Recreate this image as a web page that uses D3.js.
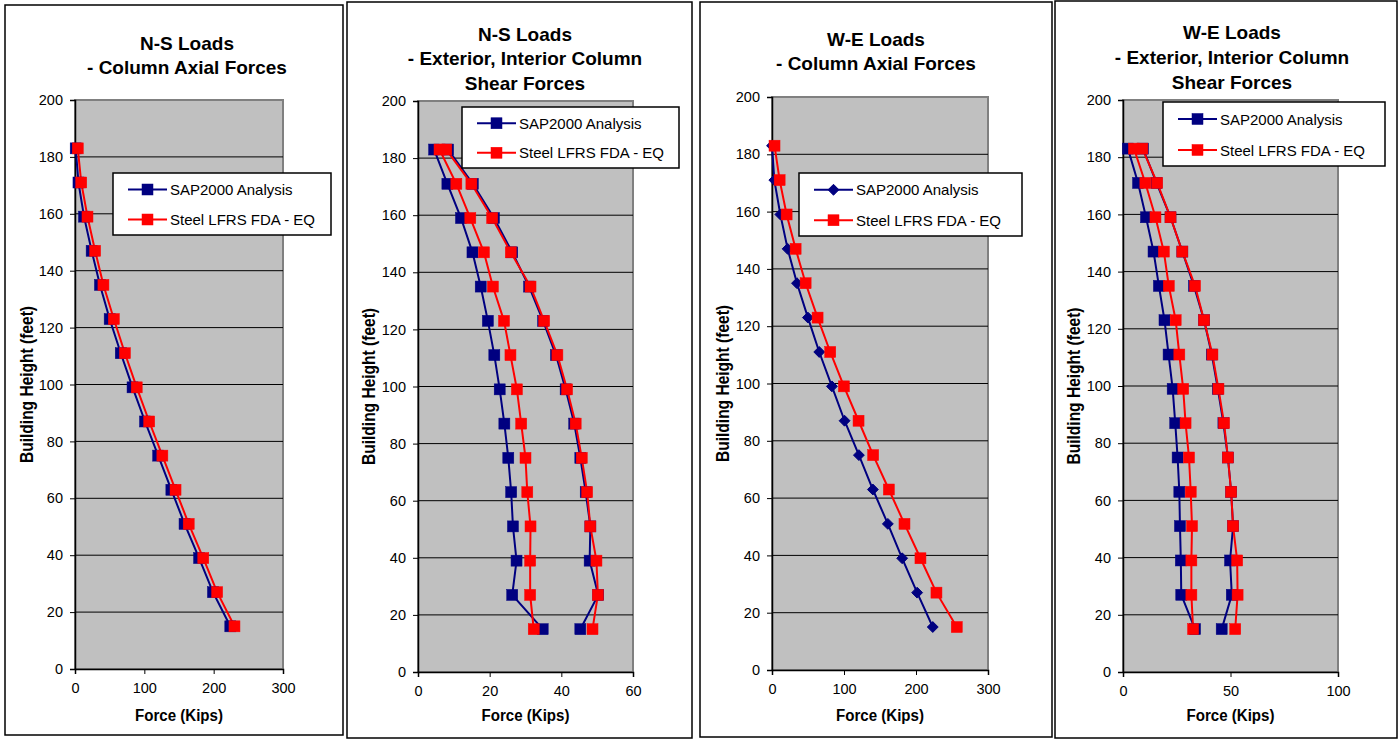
<!DOCTYPE html>
<html>
<head>
<meta charset="utf-8">
<script src="https://cdn.jsdelivr.net/npm/d3@7"></script>
<style>
  body { margin: 0; background: #fff; }
  svg { display: block; font-family: "Liberation Sans", Arial, sans-serif; }
</style>
</head>
<body>
<svg id="canvas" width="1400" height="740"></svg>
<script>
// storey heights (feet)
const heights = [183, 171, 159, 147, 135, 123, 111, 99, 87, 75, 63, 51, 39, 27, 15];

// N-S column axial forces (kips)
const nsAxialSap = [1, 5, 13, 24, 36, 50, 66, 83, 101, 120, 139, 158, 179, 199, 224];
const nsAxialFda = [4, 9, 18, 29, 41, 56, 72, 89, 107, 126, 145, 164, 185, 205, 230];

// N-S column shear forces (kips)
const nsShearExtSap = [4.5, 8.2, 12.0, 15.2, 17.5, 19.5, 21.3, 22.8, 24.1, 25.2, 26.0, 26.5, 27.5, 26.3, 34.8];
const nsShearExtFda = [6.0, 10.7, 14.6, 18.4, 20.9, 24.0, 25.8, 27.6, 28.8, 30.0, 30.5, 31.4, 31.3, 31.3, 32.3];
const nsShearIntSap = [8.4, 15.3, 21.2, 26.3, 31.0, 34.9, 38.5, 41.2, 43.6, 45.3, 46.8, 48.1, 47.9, 50.3, 45.3];
const nsShearIntFda = [7.9, 14.9, 20.7, 25.9, 31.4, 35.2, 38.9, 41.6, 44.0, 45.7, 47.2, 48.1, 49.8, 50.2, 48.7];

// W-E column axial forces (kips)
const weAxialSap = [0, 3.2, 11.6, 21.7, 34.7, 49.9, 65.6, 83.2, 100.8, 120.7, 140.1, 160.9, 180.8, 201.6, 223.3];
const weAxialFda = [3.5, 10.6, 20.3, 32.8, 46.7, 63.3, 80.9, 99.9, 120.2, 140.5, 162.3, 184.0, 206.2, 228.4, 256.6];

// W-E column shear forces (kips)
const weShearExtSap = [2.3, 7.0, 10.7, 14.2, 16.7, 19.3, 21.2, 23.1, 24.3, 25.4, 26.2, 26.5, 26.9, 27.1, 33.5];
const weShearExtFda = [5.1, 10.4, 15.1, 19.0, 21.3, 24.5, 26.2, 28.0, 29.1, 30.7, 31.5, 32.1, 31.8, 31.8, 32.6];
const weShearIntSap = [9.3, 15.6, 22.1, 27.6, 33.0, 37.7, 41.3, 44.1, 46.7, 48.8, 50.3, 51.2, 49.8, 50.6, 45.9];
const weShearIntFda = [9.0, 15.9, 22.1, 27.6, 33.5, 37.7, 41.6, 44.4, 47.0, 48.8, 50.3, 51.2, 53.1, 53.3, 52.2];

const legendNames = ['SAP2000 Analysis', 'Steel LFRS FDA - EQ'];
const yTicks = [0, 20, 40, 60, 80, 100, 120, 140, 160, 180, 200];

const BLUE = '#000080';
const RED = '#ff0000';

const svg = d3.select('#canvas');

const panels = [
	{
		frame: [5, 5, 343, 735],
		plot: { x0: 75, x1: 283, y0: 100, y1: 669 },
		xMax: 300, xTicks: [0, 100, 200, 300],
		title: ['N-S Loads', '- Column Axial Forces'], titleX: 187, titleY: [43, 67],
		legend: { x0: 113, y0: 173, x1: 331, y1: 235 },
		yTitleX: 26,
		series: [
			{ values: nsAxialSap, color: BLUE, shape: 'square' },
			{ values: nsAxialFda, color: RED, shape: 'square' },
		],
		legendShape: 'square',
	},
	{
		frame: [347, 2, 692, 738],
		plot: { x0: 418, x1: 633, y0: 101, y1: 672 },
		xMax: 60, xTicks: [0, 20, 40, 60],
		title: ['N-S Loads', '- Exterior, Interior Column', 'Shear Forces'], titleX: 525, titleY: [34, 58.5, 83],
		legend: { x0: 462, y0: 107, x1: 679, y1: 168 },
		yTitleX: 368,
		series: [
			{ values: nsShearExtSap, color: BLUE, shape: 'square' },
			{ values: nsShearIntSap, color: BLUE, shape: 'square' },
			{ values: nsShearExtFda, color: RED, shape: 'square' },
			{ values: nsShearIntFda, color: RED, shape: 'square' },
		],
		legendShape: 'square',
	},
	{
		frame: [700, 2, 1052, 737],
		plot: { x0: 772, x1: 988, y0: 97, y1: 670 },
		xMax: 300, xTicks: [0, 100, 200, 300],
		title: ['W-E Loads', '- Column Axial Forces'], titleX: 876, titleY: [39, 63],
		legend: { x0: 799, y0: 173, x1: 1022, y1: 236 },
		yTitleX: 722,
		series: [
			{ values: weAxialSap, color: BLUE, shape: 'diamond' },
			{ values: weAxialFda, color: RED, shape: 'square' },
		],
		legendShape: 'diamond',
	},
	{
		frame: [1055, 1, 1397, 738],
		plot: { x0: 1123, x1: 1338, y0: 100, y1: 672 },
		xMax: 100, xTicks: [0, 50, 100],
		title: ['W-E Loads', '- Exterior, Interior Column', 'Shear Forces'], titleX: 1232, titleY: [32, 57, 82],
		legend: { x0: 1163, y0: 102, x1: 1385, y1: 166 },
		yTitleX: 1073,
		series: [
			{ values: weShearExtSap, color: BLUE, shape: 'square' },
			{ values: weShearIntSap, color: BLUE, shape: 'square' },
			{ values: weShearExtFda, color: RED, shape: 'square' },
			{ values: weShearIntFda, color: RED, shape: 'square' },
		],
		legendShape: 'square',
	},
];

const drawMarker = (g, shape, color, cx, cy) => {
	if (shape === 'diamond') {
		g.append('path')
			.attr('d', d3.symbol().type(d3.symbolDiamond2).size(75)())
			.attr('transform', `translate(${cx},${cy})`)
			.attr('fill', color)
			.attr('stroke', color)
			.attr('stroke-width', 1);
	} else {
		g.append('rect')
			.attr('x', cx - 5.5)
			.attr('y', cy - 5.5)
			.attr('width', 11)
			.attr('height', 11)
			.attr('fill', color)
			.attr('stroke', color)
			.attr('stroke-width', 0.5);
	}
};

const drawPanel = (p) => {
	const g = svg.append('g');
	const [fx0, fy0, fx1, fy1] = p.frame;

	g.append('rect')
		.attr('x', fx0).attr('y', fy0)
		.attr('width', fx1 - fx0).attr('height', fy1 - fy0)
		.attr('fill', '#fff')
		.attr('stroke', '#000')
		.attr('stroke-width', 1.5);

	const x = d3.scaleLinear().domain([0, p.xMax]).range([p.plot.x0, p.plot.x1]);
	const y = d3.scaleLinear().domain([0, 200]).range([p.plot.y1, p.plot.y0]);

	// plot area
	g.append('rect')
		.attr('x', p.plot.x0).attr('y', p.plot.y0)
		.attr('width', p.plot.x1 - p.plot.x0).attr('height', p.plot.y1 - p.plot.y0)
		.attr('fill', '#c0c0c0')
		.attr('stroke', '#808080')
		.attr('stroke-width', 2);

	// gridlines
	g.selectAll('.grid')
		.data(yTicks.filter((t) => t > 0 && t < 200))
		.enter()
		.append('line')
		.attr('x1', p.plot.x0).attr('x2', p.plot.x1)
		.attr('y1', (t) => y(t)).attr('y2', (t) => y(t))
		.attr('stroke', '#000')
		.attr('stroke-width', 1);

	// axes
	const yAxis = d3.axisLeft(y).tickValues(yTicks).tickSize(5).tickPadding(7);
	const xAxis = d3.axisBottom(x).tickValues(p.xTicks).tickSize(5).tickPadding(9);

	const ya = g.append('g').attr('transform', `translate(${p.plot.x0},0)`).call(yAxis);
	const xa = g.append('g').attr('transform', `translate(0,${p.plot.y1})`).call(xAxis);
	[ya, xa].forEach((a) => {
		a.select('.domain').attr('stroke', '#000').attr('stroke-width', 1.5);
		a.selectAll('.tick line').attr('stroke', '#000');
		a.selectAll('text')
			.attr('font-family', '"Liberation Sans", Arial, sans-serif')
			.attr('font-size', '14.5px')
			.attr('fill', '#000');
	});

	// series lines and markers
	const line = d3.line()
		.x((d) => x(d[0]))
		.y((d) => y(d[1]));

	p.series.forEach((s) => {
		const pts = s.values.map((v, i) => [v, heights[i]]);
		g.append('path')
			.attr('d', line(pts))
			.attr('fill', 'none')
			.attr('stroke', s.color)
			.attr('stroke-width', 2);
	});
	p.series.forEach((s) => {
		s.values.forEach((v, i) => drawMarker(g, s.shape, s.color, x(v), y(heights[i])));
	});

	// titles
	p.title.forEach((t, i) => {
		g.append('text')
			.attr('x', p.titleX)
			.attr('y', p.titleY[i] + 6.5)
			.attr('text-anchor', 'middle')
			.attr('font-weight', 'bold')
			.attr('font-size', '19px')
			.text(t);
	});

	g.append('text')
		.attr('x', (p.plot.x0 + p.plot.x1) / 2)
		.attr('y', 721)
		.attr('text-anchor', 'middle')
		.attr('font-weight', 'bold')
		.attr('font-size', '16px')
		.attr('textLength', 88)
		.attr('lengthAdjust', 'spacingAndGlyphs')
		.text('Force (Kips)');

	const ycy = (p.plot.y0 + p.plot.y1) / 2;
	g.append('text')
		.attr('transform', `translate(${p.yTitleX + 6.5},${ycy}) rotate(-90)`)
		.attr('text-anchor', 'middle')
		.attr('font-weight', 'bold')
		.attr('font-size', '18px')
		.attr('textLength', 157)
		.attr('lengthAdjust', 'spacingAndGlyphs')
		.text('Building Height (feet)');

	// legend
	const L = p.legend;
	g.append('rect')
		.attr('x', L.x0).attr('y', L.y0)
		.attr('width', L.x1 - L.x0).attr('height', L.y1 - L.y0)
		.attr('fill', '#fff')
		.attr('stroke', '#000')
		.attr('stroke-width', 1.5);

	const rowH = (L.y1 - L.y0) / 2;
	legendNames.forEach((name, i) => {
		const cy = L.y0 + rowH * (i + 0.5) + (i === 0 ? 1 : 0);
		const color = i === 0 ? BLUE : RED;
		const shape = i === 0 ? p.legendShape : 'square';
		const lx0 = L.x0 + 15;
		g.append('line')
			.attr('x1', lx0).attr('x2', lx0 + 39)
			.attr('y1', cy).attr('y2', cy)
			.attr('stroke', color)
			.attr('stroke-width', 2);
		drawMarker(g, shape, color, lx0 + 19.5, cy);
		g.append('text')
			.attr('x', lx0 + 42)
			.attr('y', cy + 5.5)
			.attr('font-size', '15px')
			.text(name);
	});
};

panels.forEach(drawPanel);
</script>
</body>
</html>
